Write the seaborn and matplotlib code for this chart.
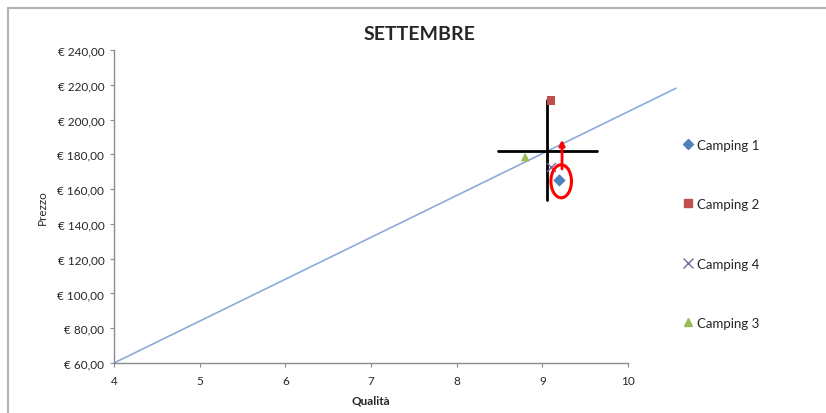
import matplotlib.pyplot as plt
import matplotlib.patches as mpatches
import seaborn as sns
import pandas as pd

# data
campings = ['Camping 1', 'Camping 2', 'Camping 4', 'Camping 3']
qualita = [9.2, 9.1, 9.1, 8.8]
prezzo = [165, 211, 173, 178.5]
colors = ['#4F81BD', '#C0504D', '#8064A2', '#9BBB59']
markers = ['D', 's', 'x', '^']

trend_x = [4, 10.56]
trend_y = [60, 218]

cross_h_x = [8.48, 9.64]
cross_h_y = [182, 182]
cross_v_x = [9.05, 9.05]
cross_v_y = [154, 211]

arrow_x = 9.23
arrow_y = [170, 190]

x_ticks = [4, 5, 6, 7, 8, 9, 10]
y_ticks = [60, 80, 100, 120, 140, 160, 180, 200, 220, 240]

df = pd.DataFrame({'Camping': campings, 'Qualità': qualita, 'Prezzo': prezzo})
pal = dict(zip(campings, colors))
mk = dict(zip(campings, markers))

sns.set_style('white')
plt.rcParams['font.family'] = ['Lato', 'DejaVu Sans']

fig = plt.figure(figsize=(8.26, 4.14), dpi=100)
ax = fig.add_axes([114 / 826, 50 / 414, 514 / 826, 313 / 414])

# outer chart frame
fig.patches.append(mpatches.Rectangle((8 / 826, -0.1), 1.1, (414 - 9) / 414 + 0.1,
                                      transform=fig.transFigure, fill=False,
                                      edgecolor='#b3b3b3', linewidth=1.5))

# trend line
ax.plot(trend_x, trend_y, color='#8EAADB', linewidth=1.2, clip_on=False, zorder=2)

# cross
ax.plot(cross_h_x, cross_h_y, color='black', linewidth=2, zorder=3)
ax.plot(cross_v_x, cross_v_y, color='black', linewidth=2, zorder=3)

filled = df[df['Camping'] != 'Camping 4']
sns.scatterplot(data=filled, x='Qualità', y='Prezzo', hue='Camping', style='Camping',
                palette={k: pal[k] for k in filled['Camping']},
                markers={k: mk[k] for k in filled['Camping']},
                s=40, linewidth=0, ax=ax, zorder=4, legend=False)
line_art = df[df['Camping'] == 'Camping 4']
sns.scatterplot(data=line_art, x='Qualità', y='Prezzo', color=pal['Camping 4'], marker='x',
                s=40, linewidth=1, ax=ax, zorder=4, legend=False)

# red arrow and circle
ax.annotate('', xy=(arrow_x, arrow_y[1]), xytext=(arrow_x, arrow_y[0]),
            arrowprops=dict(arrowstyle='-|>', color='red', lw=2, mutation_scale=8), zorder=5)
ax.add_patch(mpatches.Ellipse((9.22, 164.5), 0.24, 19, fill=False, edgecolor='red',
                              linewidth=2.2, zorder=5))

ax.set_xlim(4, 10)
ax.set_ylim(60, 240)
ax.set_xticks(x_ticks)
ax.set_yticks(y_ticks)
ax.set_yticklabels([f'€ {v:.2f}'.replace('.', ',') for v in y_ticks])
ax.tick_params(axis='both', labelsize=8.5, length=3, color='#8c8c8c', direction='out',
               bottom=True, left=True)
ax.tick_params(axis='x', pad=6)
ax.tick_params(axis='y', pad=4)
for s in ['top', 'right']:
    ax.spines[s].set_visible(False)
for s in ['left', 'bottom']:
    ax.spines[s].set_color('#8c8c8c')
    ax.spines[s].set_linewidth(1)

ax.set_xlabel('Qualità', fontsize=8.5, fontweight='bold', labelpad=6)
ax.set_ylabel('Prezzo', fontsize=8.5, labelpad=7)
fig.text(420 / 826, 1 - 34 / 414, 'SETTEMBRE', fontsize=14, fontweight='bold',
         ha='center', va='center')

handles = []
for name, c, m in zip(campings, colors, markers):
    if m == 'x':
        h = plt.Line2D([], [], linestyle='', marker=m, color=c, markersize=7, markeredgewidth=1)
    else:
        h = plt.Line2D([], [], linestyle='', marker=m, color=c, markersize=6 if m != 'D' else 5)
    handles.append(h)
fig.legend(handles, campings, loc='upper left', bbox_to_anchor=(673 / 826, 1 - 133 / 414),
           frameon=False, fontsize=9.5, labelspacing=3.6, handletextpad=0.1,
           handlelength=1.2, borderpad=0)

fig.savefig('out.png', dpi=100)
